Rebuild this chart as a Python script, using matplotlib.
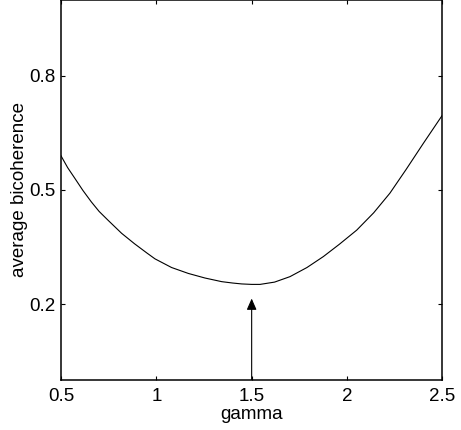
import matplotlib

matplotlib.use("Agg")
import matplotlib.pyplot as plt  # noqa: E402
from matplotlib.ticker import FormatStrFormatter  # noqa: E402

# curve
gamma = [0.5, 0.535, 0.572, 0.615, 0.659, 0.70, 0.746, 0.818, 0.886, 0.95,
         0.993, 1.08, 1.168, 1.255, 1.343, 1.40, 1.448, 1.50, 1.544, 1.62,
         1.701, 1.79, 1.876, 1.96, 2.051, 2.14, 2.225, 2.31, 2.4, 2.45, 2.5]
bicoherence = [0.575, 0.549, 0.526, 0.499, 0.474, 0.453, 0.434, 0.405, 0.382, 0.362,
               0.349, 0.33, 0.317, 0.307, 0.299, 0.296, 0.294, 0.293, 0.293, 0.298,
               0.31, 0.33, 0.354, 0.381, 0.412, 0.45, 0.493, 0.545, 0.602, 0.633, 0.664]
arrow_x = 1.5
arrow_tip = 0.262
xticks = [0.5, 1, 1.5, 2, 2.5]
yticks = [0.25, 0.5, 0.75]

plt.rcParams["font.family"] = ["Liberation Sans", "DejaVu Sans"]
plt.rcParams["font.size"] = 13.5

fig = plt.figure(figsize=(4.61, 4.30), dpi=100)
ax = fig.add_axes([0.1323, 0.1174, 0.8272, 0.8815])

ax.plot(gamma, bicoherence, color="black", lw=0.8)
ylo, yhi = 0.0844, 0.9156
ax.annotate("", xy=(arrow_x, arrow_tip), xytext=(arrow_x, ylo),
            arrowprops=dict(arrowstyle="-|>,head_length=0.5,head_width=0.22",
                            color="black", lw=0.8, shrinkA=0, shrinkB=0))

ax.set_xlim(0.5, 2.5)
ax.set_ylim(ylo, yhi)
ax.set_xticks(xticks)
ax.set_xticklabels(["0.5", "1", "1.5", "2", "2.5"])
ax.set_yticks(yticks)
ax.yaxis.set_major_formatter(FormatStrFormatter("%.1f"))
ax.tick_params(direction="in", length=3, width=0.8, top=True, right=True,
               labelsize=13.5)
ax.tick_params(axis="x", pad=6)
ax.tick_params(axis="y", pad=4)
for s in ax.spines.values():
    s.set_linewidth(1.1)

ax.set_xlabel("gamma", labelpad=0.5)
ax.set_ylabel("average bicoherence", labelpad=1)

fig.savefig("out.png", dpi=100)
